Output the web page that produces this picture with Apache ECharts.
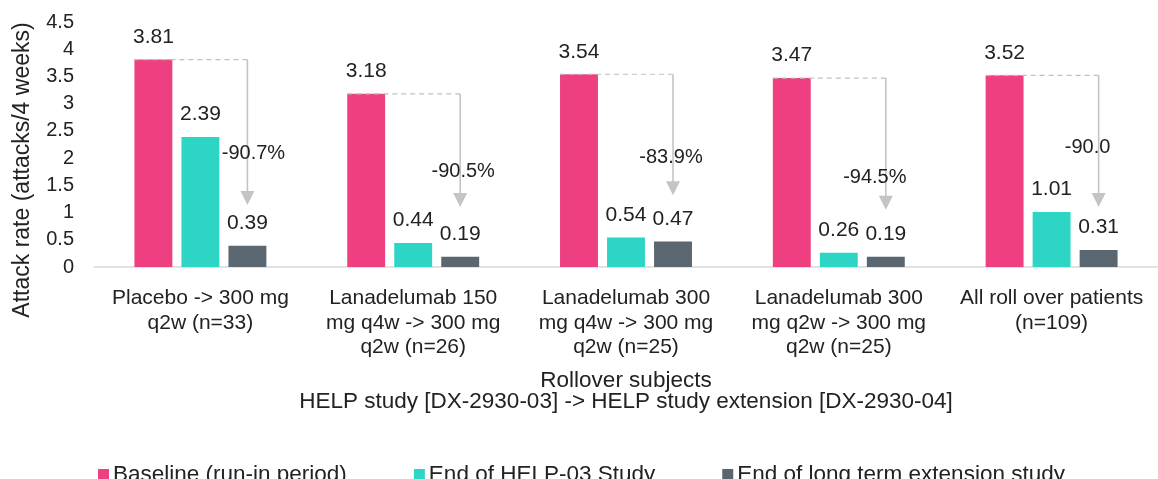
<!DOCTYPE html>
<html>
<head>
<meta charset="utf-8">
<script src="https://cdn.jsdelivr.net/npm/echarts@6/dist/echarts.min.js"></script>
<style>html,body{margin:0;padding:0;background:#fff}#c{width:1158px;height:479px}</style>
</head>
<body>
<div id="c"></div>
<script>
const categories = [
  'Placebo -> 300 mg\nq2w (n=33)',
  'Lanadelumab 150\nmg q4w -> 300 mg\nq2w (n=26)',
  'Lanadelumab 300\nmg q4w -> 300 mg\nq2w (n=25)',
  'Lanadelumab 300\nmg q2w -> 300 mg\nq2w (n=25)',
  'All roll over patients\n(n=109)'
];
const seriesNames = ['Baseline (run-in period)', 'End of HELP-03 Study', 'End of long term extension study'];
const baseline = [3.81, 3.18, 3.54, 3.47, 3.52];
const endHelp03 = [2.39, 0.44, 0.54, 0.26, 1.01];
const endExtension = [0.39, 0.19, 0.47, 0.19, 0.31];
const reductionLabels = ['-90.7%', '-90.5%', '-83.9%', '-94.5%', '-90.0'];
const reductionLabelAt = [2.09, 1.75, 2.02, 1.64, 2.20];
const arrowEnd = [1.14, 1.10, 1.32, 1.05, 1.10];
const yTicks = { min: 0, max: 4.5, interval: 0.5 };

const FONT = "'Liberation Sans', Arial, sans-serif";
const colors = ['#EE3F80', '#2DD5C4', '#5B6770'];
const CAT_GAP = 0.38, BAR_GAP = 0.24;
const labelDx = [6, 3, -2, -11, -11];

const chart = echarts.init(document.getElementById('c'));

const barLabel = {
  show: true, position: 'top', distance: 12,
  fontSize: 21, color: '#222', fontFamily: FONT
};

const annoData = categories.map((c, i) => [i, baseline[i], arrowEnd[i], reductionLabelAt[i]]);

const option = {
  animation: false,
  textStyle: { fontFamily: FONT },
  grid: { left: 94, right: -4, top: 22, bottom: 212, containLabel: false },
  legend: {
    data: seriesNames,
    left: 93, top: 458,
    itemWidth: 11, itemHeight: 11, itemGap: 67,
    icon: 'rect',
    textStyle: { fontSize: 22.5, color: '#222', fontFamily: FONT, padding: [0, 0, 0, -1] }
  },
  xAxis: {
    type: 'category',
    data: categories,
    axisLine: { lineStyle: { color: '#D9D9D9', width: 1.5 } },
    axisTick: { show: false },
    axisLabel: { fontSize: 21, color: '#222', lineHeight: 24.5, margin: 19, interval: 0, fontFamily: FONT },
    name: 'Rollover subjects\nHELP study [DX-2930-03] -> HELP study extension [DX-2930-04]',
    nameLocation: 'middle',
    nameGap: 103,
    nameTextStyle: { fontSize: 22.5, color: '#222', lineHeight: 21, align: 'center', fontFamily: FONT }
  },
  yAxis: {
    type: 'value',
    min: yTicks.min, max: yTicks.max, interval: yTicks.interval,
    axisLine: { show: false },
    axisTick: { show: false },
    splitLine: { show: false },
    axisLabel: { fontSize: 20, color: '#222', margin: 20, fontFamily: FONT }
  },
  graphic: [{
    type: 'text',
    x: 23, y: 170,
    rotation: Math.PI / 2,
    style: {
      text: 'Attack rate (attacks/4 weeks)',
      fontSize: 23, fill: '#222', fontFamily: FONT,
      align: 'center', verticalAlign: 'middle'
    }
  }],
  series: [
    { name: seriesNames[0], type: 'bar', data: baseline, itemStyle: { color: colors[0] },
      barCategoryGap: (CAT_GAP * 100) + '%', barGap: (BAR_GAP * 100) + '%', label: barLabel },
    { name: seriesNames[1], type: 'bar', data: endHelp03, itemStyle: { color: colors[1] }, label: barLabel },
    { name: seriesNames[2], type: 'bar', data: endExtension, itemStyle: { color: colors[2] }, label: barLabel },
    {
      type: 'custom',
      name: 'reduction',
      data: annoData,
      encode: { x: 0, y: 1 },
      z: 10,
      silent: true,
      renderItem: function (params, api) {
        const i = api.value(0);
        const top = api.coord([i, api.value(1)]);
        const band = api.size([1, 0])[0];
        const bw = band * (1 - CAT_GAP) / (3 + 2 * BAR_GAP);
        const gap = bw * BAR_GAP;
        const left = top[0] - 1.5 * bw - gap;
        const ax = top[0] + bw + gap;
        const yTop = top[1];
        const yEnd = api.coord([i, api.value(2)])[1];
        const yLab = api.coord([i, api.value(3)])[1];
        const head = 14;
        return {
          type: 'group',
          children: [
            { type: 'line', shape: { x1: left, y1: yTop, x2: ax, y2: yTop },
              style: { stroke: '#BFBFBF', lineWidth: 1.2, lineDash: [5, 4] } },
            { type: 'line', shape: { x1: ax, y1: yTop, x2: ax, y2: yEnd - head + 1 },
              style: { stroke: '#C4C4C4', lineWidth: 1.6 } },
            { type: 'polygon', shape: { points: [[ax - 7, yEnd - head], [ax + 7, yEnd - head], [ax, yEnd]] },
              style: { fill: '#C4C4C4' } },
            { type: 'text', x: ax + labelDx[params.dataIndex], y: yLab,
              style: { text: reductionLabels[params.dataIndex], fontSize: 20, fill: '#222',
                       fontFamily: FONT, align: 'center', verticalAlign: 'middle' } }
          ]
        };
      }
    }
  ]
};
chart.setOption(option);
</script>
</body>
</html>
